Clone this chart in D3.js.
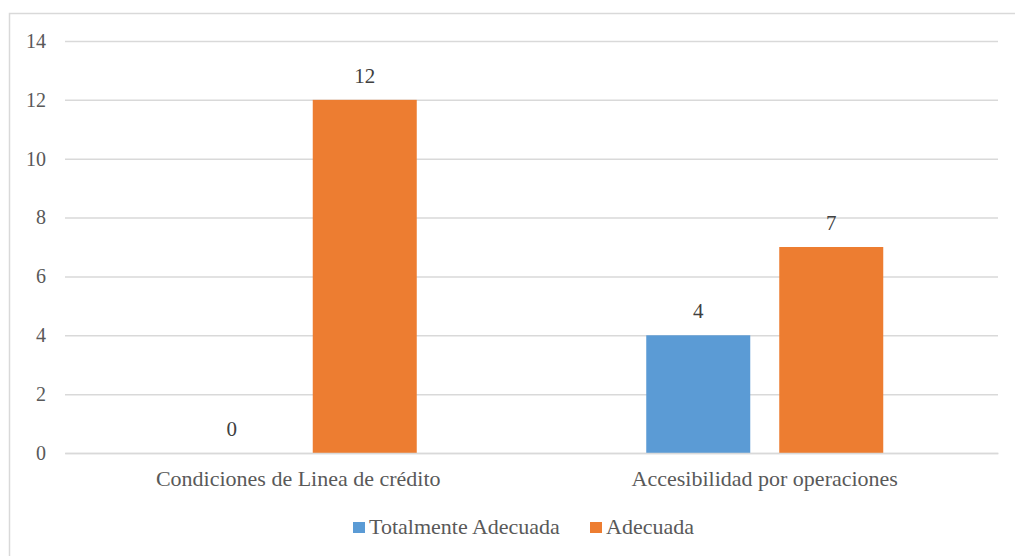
<!DOCTYPE html>
<html>
<head>
<meta charset="utf-8">
<script src="https://cdn.jsdelivr.net/npm/d3@7"></script>
<style>
  body { margin: 0; background: #fff; }
</style>
</head>
<body>
<svg id="chart"></svg>
<script>
const categories = ["Condiciones de Linea de crédito", "Accesibilidad por operaciones"];
const seriesNames = ["Totalmente Adecuada", "Adecuada"];
const totalmenteAdecuada = [0, 4];
const adecuada = [12, 7];
const yTicks = [0, 2, 4, 6, 8, 10, 12, 14];
const colors = ["#5b9bd5", "#ed7d31"];

const width = 1015;
const height = 556;
const margin = { top: 41, right: 17, bottom: 103, left: 65 };
const serif = '"Liberation Serif"';

const svg = d3.select("#chart").attr("width", width).attr("height", height);

// chart frame
svg.append("rect")
  .attr("x", 9.5).attr("y", 13.5)
  .attr("width", width - 8).attr("height", height)
  .attr("fill", "none").attr("stroke", "#d9d9d9").attr("stroke-width", 1.5);

const x0 = d3.scaleBand()
  .domain(categories)
  .range([margin.left, width - margin.right]);

const groupWidth = 237;
const x1 = d3.scaleBand()
  .domain(seriesNames)
  .range([(x0.bandwidth() - groupWidth) / 2, (x0.bandwidth() + groupWidth) / 2])
  .paddingInner(0.218);

const y = d3.scaleLinear()
  .domain([0, 14])
  .range([height - margin.bottom, margin.top]);

// gridlines + y labels
svg.append("g")
  .attr("transform", `translate(${margin.left},0)`)
  .call(d3.axisLeft(y)
    .tickValues(yTicks)
    .tickSize(-(width - margin.left - margin.right))
    .tickPadding(19))
  .call((g) => g.select(".domain").remove())
  .call((g) => g.selectAll(".tick line").attr("stroke", "#d9d9d9").attr("stroke-width", 1.5))
  .call((g) => g.selectAll(".tick text")
    .style("font-family", serif).style("font-size", "20px").attr("fill", "#595959"));

const rows = categories.map((c, i) => ({
  category: c,
  values: [
    { key: seriesNames[0], value: totalmenteAdecuada[i] },
    { key: seriesNames[1], value: adecuada[i] },
  ],
}));

const groups = svg.selectAll("g.group")
  .data(rows)
  .join("g")
  .attr("class", "group")
  .attr("transform", (d) => `translate(${x0(d.category)},0)`);

groups.selectAll("rect")
  .data((d) => d.values)
  .join("rect")
  .attr("x", (d) => x1(d.key))
  .attr("width", x1.bandwidth())
  .attr("y", (d) => y(d.value))
  .attr("height", (d) => y(0) - y(d.value))
  .attr("fill", (d, i) => colors[i]);

groups.selectAll("text.val")
  .data((d) => d.values)
  .join("text")
  .attr("class", "val")
  .attr("x", (d) => x1(d.key) + x1.bandwidth() / 2)
  .attr("y", (d) => y(d.value) - 17)
  .attr("text-anchor", "middle")
  .attr("fill", "#404040")
  .style("font-family", serif)
  .style("font-size", "21px")
  .text((d) => d.value);

// category labels
svg.append("g")
  .attr("transform", `translate(0,${y(0)})`)
  .call(d3.axisBottom(x0).tickSize(0).tickPadding(17))
  .call((g) => g.select(".domain").attr("stroke", "#d9d9d9").attr("stroke-width", 1.5))
  .call((g) => g.selectAll(".tick text")
    .style("font-family", serif).style("font-size", "22px").attr("fill", "#595959"));

// legend
const legendX = [353, 590];
const legend = svg.selectAll("g.legend")
  .data(seriesNames)
  .join("g")
  .attr("class", "legend")
  .attr("transform", (d, i) => `translate(${legendX[i]},522)`);

legend.append("rect")
  .attr("width", 12).attr("height", 11)
  .attr("fill", (d, i) => colors[i]);

legend.append("text")
  .attr("x", 16).attr("y", 12)
  .attr("fill", "#595959")
  .style("font-family", serif)
  .style("font-size", "22px")
  .text((d) => d);
</script>
</body>
</html>
